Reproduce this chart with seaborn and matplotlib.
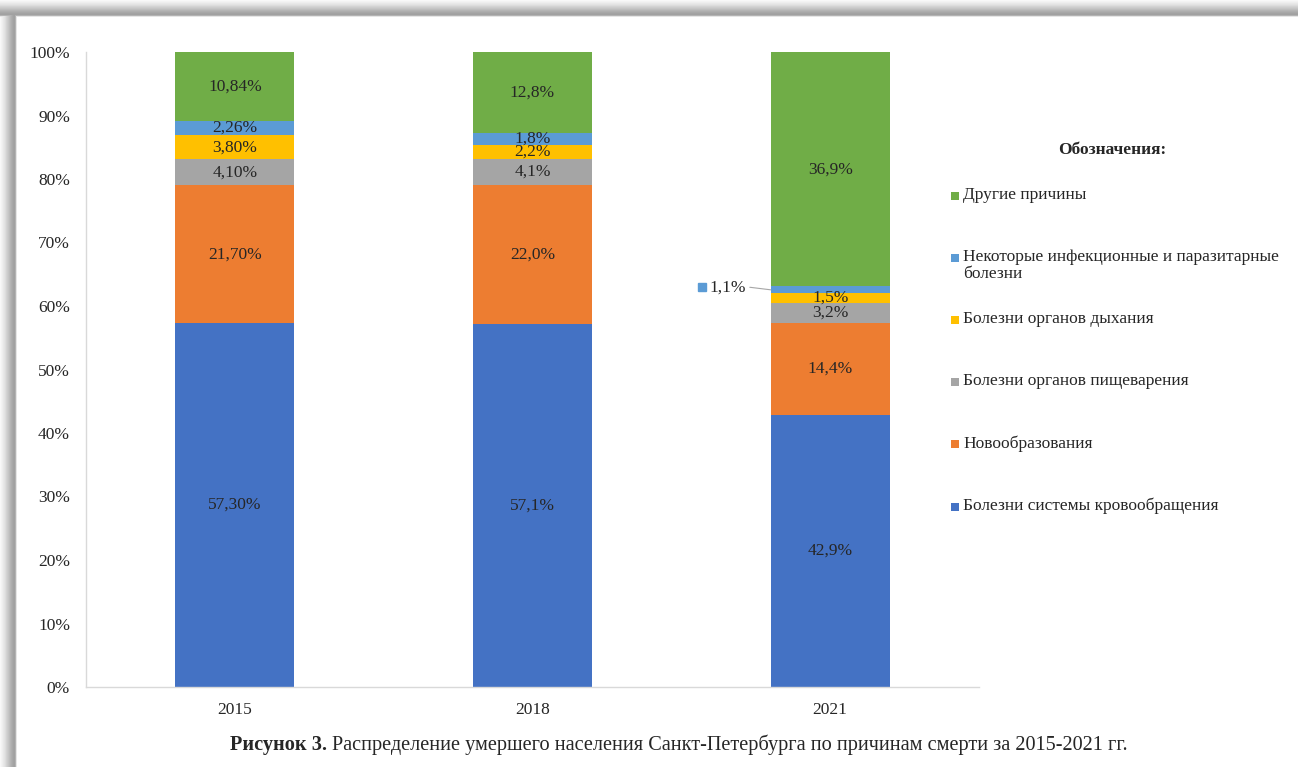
"""
100% stacked bars: causes of death in Saint Petersburg, 2015-2021.
"""

import numpy as np
import pandas as pd
import matplotlib
matplotlib.use("Agg")
import matplotlib.pyplot as plt
import seaborn as sns
from matplotlib.patches import Rectangle

years = ["2015", "2018", "2021"]
causes = [
    "Болезни системы кровообращения",
    "Новообразования",
    "Болезни органов пищеварения",
    "Болезни органов дыхания",
    "Некоторые инфекционные и паразитарные\nболезни",
    "Другие причины",
]
circulatory = [57.30, 57.1, 42.9]
neoplasms = [21.70, 22.0, 14.4]
digestive = [4.10, 4.1, 3.2]
respiratory = [3.80, 2.2, 1.5]
infectious = [2.26, 1.8, 1.1]
other = [10.84, 12.8, 36.9]

circulatory_labels = ["57,30%", "57,1%", "42,9%"]
neoplasms_labels = ["21,70%", "22,0%", "14,4%"]
digestive_labels = ["4,10%", "4,1%", "3,2%"]
respiratory_labels = ["3,80%", "2,2%", "1,5%"]
infectious_labels = ["2,26%", "1,8%", "1,1%"]
other_labels = ["10,84%", "12,8%", "36,9%"]

y_ticks = [0, 10, 20, 30, 40, 50, 60, 70, 80, 90, 100]
colors = ["#4472C4", "#ED7D31", "#A5A5A5", "#FFC000", "#5B9BD5", "#70AD47"]

legend_title = "Обозначения:"
caption_bold = "Рисунок 3."
caption_rest = "Распределение умершего населения Санкт-Петербурга по причинам смерти за 2015-2021 гг."

series = np.array([circulatory, neoplasms, digestive, respiratory, infectious, other])
labels = [circulatory_labels, neoplasms_labels, digestive_labels,
          respiratory_labels, infectious_labels, other_labels]
cum = np.cumsum(series, axis=0)

sns.set_style("white")
plt.rcParams["font.family"] = ["Liberation Serif", "DejaVu Serif"]
FS = 12.5
CAPTION_FS = 14.6

W, H = 1298, 767
fig = plt.figure(figsize=(W / 100, H / 100), dpi=100, facecolor="white")


def fx(px):
    return px / W


def fy(py):
    return 1 - py / H


# shadowed frame (top and left edges)
bg = fig.add_axes([0, 0, 1, 1], zorder=-5)
img = np.ones((H, W))
band = np.array([0.97, 0.95, 0.93, 0.91, 0.89, 0.86, 0.83, 0.80, 0.77,
                 0.74, 0.71, 0.68, 0.66, 0.64, 0.63, 0.70, 0.90])
for i, v in enumerate(band):
    img[i, :] = np.minimum(img[i, :], v)
    img[i:, i] = np.minimum(img[i:, i], v)
bg.imshow(img, cmap="gray", vmin=0, vmax=1, aspect="auto", interpolation="nearest")
bg.axis("off")

ax = fig.add_axes([fx(86), fy(687), fx(979 - 86), (687 - 52) / H])
ax.set_facecolor("none")

# stacked bars drawn as overlapping cumulative totals, top layer first
for i in reversed(range(len(causes))):
    df = pd.DataFrame({"year": years, "value": cum[i]})
    sns.barplot(data=df, x="year", y="value", color=colors[i], saturation=1,
                width=0.4, linewidth=0, errorbar=None, ax=ax)

for i in range(len(causes)):
    for j in range(len(years)):
        yc = cum[i][j] - series[i][j] / 2
        if i == 4 and j == 2:
            # small segment labelled outside with a leader line
            ax.plot([j - 0.27, j - 0.2], [yc + 0.4, yc], color="#A6A6A6", lw=0.8)
            ax.plot(j - 0.43, yc + 0.4, "s", ms=5.8, color=colors[i])
            ax.text(j - 0.343, yc + 0.4, labels[i][j], ha="center", va="center", fontsize=FS)
        else:
            ax.text(j, yc, labels[i][j], ha="center", va="center", fontsize=FS)

ax.set_xlim(-0.5, 2.5)
ax.set_ylim(0, 100)
ax.set_yticks(y_ticks)
ax.set_yticklabels([f"{t}%" for t in y_ticks], fontsize=FS)
ax.tick_params(axis="y", length=0, pad=11.5)
ax.tick_params(axis="x", length=0, pad=10.5, labelsize=FS)
ax.set_xlabel("")
ax.set_ylabel("")
for side in ["top", "right"]:
    ax.spines[side].set_visible(False)
for side in ["left", "bottom"]:
    ax.spines[side].set_color("#D9D9D9")
    ax.spines[side].set_linewidth(1.0)

# legend
fig.text(fx(1112), fy(150), legend_title, ha="center", va="center",
         fontsize=FS, fontweight="bold")
for k, name in enumerate(reversed(causes)):
    color = colors[len(causes) - 1 - k]
    yc = 196 + k * 62.1
    fig.patches.append(Rectangle((fx(951), fy(yc + 4)), fx(8), 8 / H,
                                 transform=fig.transFigure, facecolor=color,
                                 edgecolor="none", figure=fig))
    fig.text(fx(963), fy(yc - 9), name, ha="left", va="top", fontsize=FS,
             linespacing=1.05)

# caption
t1 = fig.text(fx(230), fy(745), caption_bold, ha="left", va="center",
              fontsize=CAPTION_FS, fontweight="bold")
renderer = fig.canvas.get_renderer()
bb = t1.get_window_extent(renderer=renderer)
fig.text((bb.x1 + 5) / W, fy(745), caption_rest, ha="left", va="center",
         fontsize=CAPTION_FS)

plt.savefig("out.png", dpi=100)
plt.close()
